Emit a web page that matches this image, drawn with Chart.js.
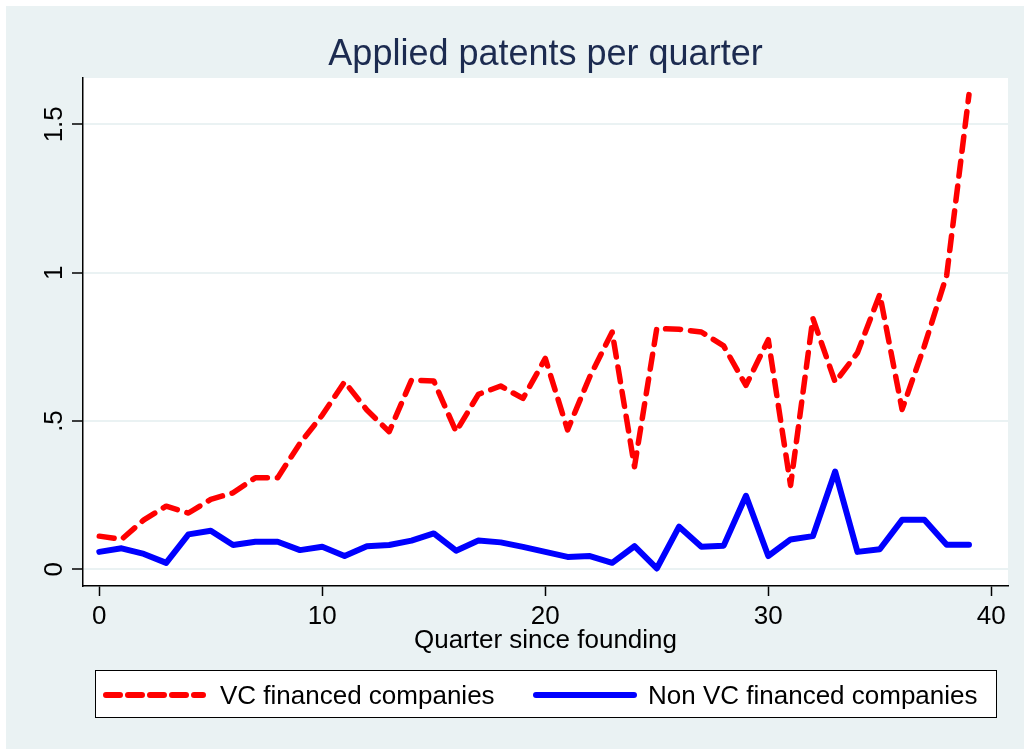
<!DOCTYPE html>
<html>
<head>
<meta charset="utf-8">
<title>Applied patents per quarter</title>
<script src="https://cdn.jsdelivr.net/npm/chart.js@4.4.1/dist/chart.umd.min.js"></script>
<style>
  html, body { margin: 0; padding: 0; background: #fff; }
  canvas { display: block; }
</style>
</head>
<body>
<canvas id="patentsChart" width="1024" height="749"></canvas>
<script>
// quarters since founding and the mean number of applied patents
const quarters = [0, 1, 2, 3, 4, 5, 6, 7, 8, 9, 10, 11, 12, 13, 14, 15, 16, 17, 18, 19,
                  20, 21, 22, 23, 24, 25, 26, 27, 28, 29, 30, 31, 32, 33, 34, 35, 36, 37, 38, 39];
const vcPatents = [0.112, 0.101, 0.167, 0.213, 0.19, 0.236, 0.258, 0.309, 0.309, 0.425,
                   0.52, 0.632, 0.537, 0.464, 0.638, 0.635, 0.464, 0.59, 0.618, 0.576,
                   0.711, 0.47, 0.65, 0.80, 0.346, 0.812, 0.809, 0.80, 0.753, 0.62,
                   0.774, 0.283, 0.846, 0.631, 0.73, 0.927, 0.539, 0.753, 0.991, 1.60];
const nonVcPatents = [0.059, 0.071, 0.052, 0.022, 0.118, 0.13, 0.082, 0.093, 0.093, 0.065,
                      0.076, 0.045, 0.078, 0.082, 0.097, 0.121, 0.063, 0.097, 0.091, 0.076,
                      0.059, 0.042, 0.045, 0.022, 0.078, 0.003, 0.144, 0.076, 0.08, 0.248,
                      0.045, 0.101, 0.112, 0.33, 0.059, 0.068, 0.167, 0.167, 0.083, 0.083];
const seriesNames = ["VC financed companies", "Non VC financed companies"];
const xTicks = [0, 10, 20, 30, 40];
const yTicks = [0, 0.5, 1, 1.5];
const yTickLabels = ["0", ".5", "1", "1.5"];

const FONT = "'Liberation Sans', Arial, Helvetica, sans-serif";
const BG = "#eaf2f3";

Chart.defaults.font.family = FONT;

function toPoints(values) {
    return quarters.map((q, i) => ({ x: q, y: values[i] }));
}

// stata style background: light frame, white plot region
const backgroundPlugin = {
    id: "background",
    beforeDraw(chart) {
        const ctx = chart.ctx;
        const a = chart.chartArea;
        ctx.save();
        ctx.fillStyle = "#fff";
        ctx.fillRect(0, 0, chart.width, chart.height);
        ctx.fillStyle = BG;
        ctx.fillRect(6, 6, chart.width - 6, chart.height - 6);
        ctx.fillStyle = "#fff";
        ctx.fillRect(a.left, a.top, a.right - a.left, a.bottom - a.top);
        ctx.restore();
    }
};

// rotated y labels and the boxed legend under the axis title
const labelsPlugin = {
    id: "labels",
    afterDraw(chart) {
        const ctx = chart.ctx;
        const yScale = chart.scales.y;
        ctx.save();
        ctx.font = "26px " + FONT;
        ctx.fillStyle = "#000";
        ctx.textAlign = "center";
        ctx.textBaseline = "alphabetic";
        yTicks.forEach((v, i) => {
            ctx.save();
            ctx.translate(62, yScale.getPixelForValue(v));
            ctx.rotate(-Math.PI / 2);
            ctx.fillText(yTickLabels[i], 0, 0);
            ctx.restore();
        });

        // legend box
        ctx.fillStyle = "#fff";
        ctx.fillRect(95, 670, 902, 48);
        ctx.strokeStyle = "#000";
        ctx.lineWidth = 1;
        ctx.strokeRect(95.5, 670.5, 901, 47);

        const items = [
            { x0: 106, x1: 203, tx: 220 },
            { x0: 536, x1: 634, tx: 648 }
        ];
        chart.data.datasets.forEach((ds, i) => {
            const it = items[i];
            ctx.beginPath();
            ctx.strokeStyle = ds.borderColor;
            ctx.lineWidth = 6;
            ctx.lineCap = "round";
            ctx.setLineDash(ds.borderDash ? [14, 8] : []);
            ctx.moveTo(it.x0, 695);
            ctx.lineTo(it.x1, 695);
            ctx.stroke();
            ctx.setLineDash([]);
            ctx.fillStyle = "#000";
            ctx.textAlign = "left";
            ctx.fillText(ds.label, it.tx, 704);
        });
        ctx.restore();
    }
};

const ctx = document.getElementById("patentsChart").getContext("2d");

new Chart(ctx, {
    type: "line",
    data: {
        datasets: [
            {
                label: seriesNames[0],
                data: toPoints(vcPatents),
                borderColor: "#ff0000",
                borderWidth: 5.5,
                borderDash: [15, 10],
                borderCapStyle: "round",
                borderJoinStyle: "round",
                pointRadius: 0,
                tension: 0
            },
            {
                label: seriesNames[1],
                data: toPoints(nonVcPatents),
                borderColor: "#0000ff",
                borderWidth: 6,
                borderCapStyle: "round",
                borderJoinStyle: "round",
                pointRadius: 0,
                tension: 0
            }
        ]
    },
    options: {
        responsive: false,
        animation: false,
        events: [],
        layout: { padding: { left: 0, right: 16, top: 0, bottom: 0 } },
        plugins: {
            legend: { display: false },
            tooltip: { enabled: false },
            title: {
                display: true,
                fullSize: false,
                text: "Applied patents per quarter",
                color: "#1c2b50",
                font: { size: 36, weight: "normal" },
                padding: { top: 33, bottom: 1.8 }
            }
        },
        scales: {
            x: {
                type: "linear",
                min: -0.73,
                max: 40.75,
                afterBuildTicks: s => { s.ticks = xTicks.map(v => ({ value: v })); },
                afterFit: s => { s.height = 163; },
                grid: { drawOnChartArea: false, tickLength: 10, tickColor: "#000", tickWidth: 1.5 },
                border: { color: "#000", width: 1.5 },
                ticks: { color: "#000", font: { size: 26 }, padding: 5, maxRotation: 0, autoSkip: false },
                title: {
                    display: true,
                    text: "Quarter since founding",
                    color: "#000",
                    font: { size: 26 },
                    padding: { top: 0, bottom: 93 }
                }
            },
            y: {
                type: "linear",
                min: -0.056,
                max: 1.656,
                afterBuildTicks: s => { s.ticks = yTicks.map(v => ({ value: v })); },
                afterFit: s => { s.width = 83; },
                grid: { color: BG, lineWidth: 2, tickColor: "#000", tickLength: 11, tickWidth: 1.5 },
                border: { color: "#000", width: 1.5 },
                ticks: { display: false }
            }
        }
    },
    plugins: [backgroundPlugin, labelsPlugin]
});
</script>
</body>
</html>
